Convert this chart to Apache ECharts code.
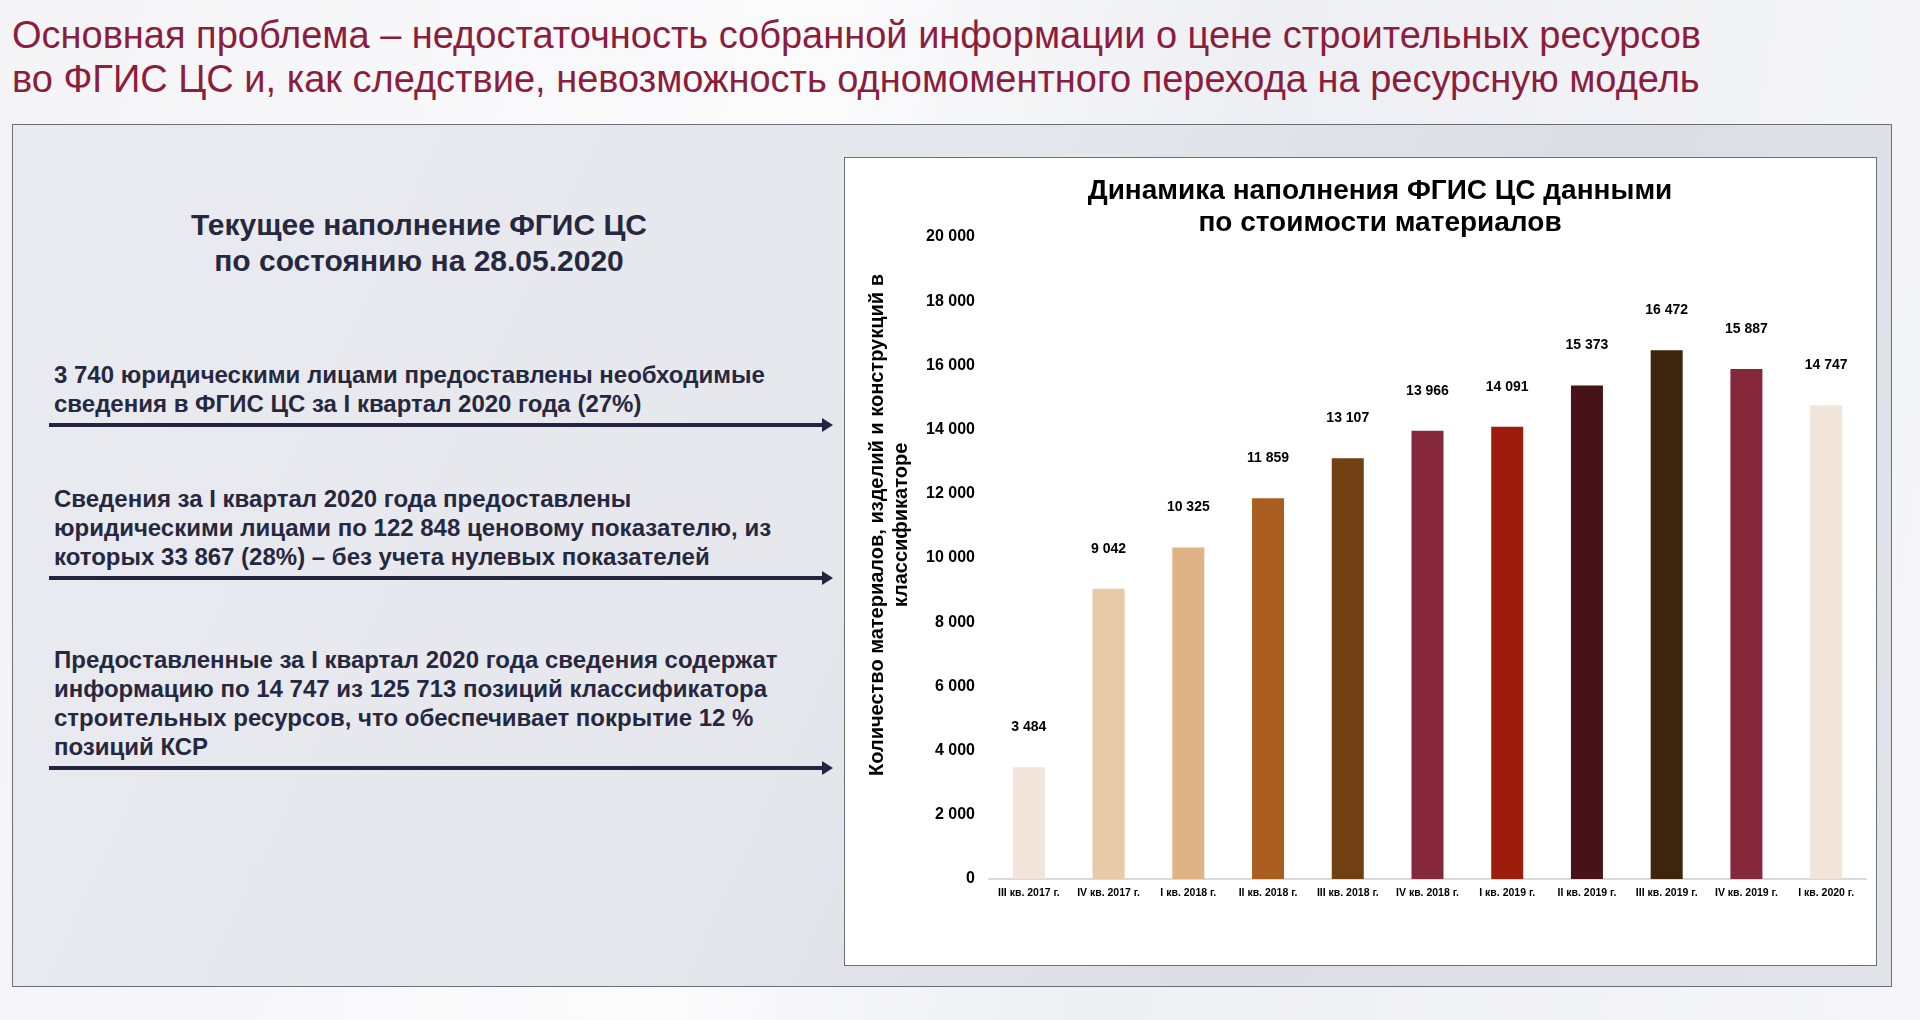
<!DOCTYPE html>
<html>
<head>
<meta charset="utf-8">
<title>Динамика наполнения ФГИС ЦС</title>
<script src="https://cdn.jsdelivr.net/npm/echarts@6/dist/echarts.min.js"></script>
<style>
	html, body {
		margin: 0;
		padding: 0;
		width: 1920px;
		height: 1020px;
		overflow: hidden;
		font-family: "Liberation Sans", Arial, sans-serif;
	}
	body {
		position: relative;
		background: linear-gradient(100deg, #f4f4f7 0%, #fbfbfc 40%, #eeeff3 60%, #f6f6f8 100%);
	}
	.slide-title {
		position: absolute;
		left: 12px;
		top: 13px;
		font-size: 38px;
		line-height: 44px;
		color: #8b1d3d;
		white-space: nowrap;
	}
	.panel {
		position: absolute;
		left: 12px;
		top: 124px;
		width: 1878px;
		height: 861px;
		border: 1.5px solid #6c6d76;
		background: linear-gradient(115deg, #eaebf0 0%, #e6e7ed 45%, #dcdde5 70%, #e3e4ea 100%);
	}
	.info-head {
		position: absolute;
		left: 119px;
		width: 600px;
		top: 207px;
		text-align: center;
		font-size: 30px;
		line-height: 36px;
		font-weight: bold;
		color: #262840;
	}
	.info {
		position: absolute;
		left: 54px;
		font-size: 24px;
		line-height: 29px;
		font-weight: bold;
		color: #262840;
		white-space: nowrap;
	}
	.arrow {
		position: absolute;
		left: 49px;
		width: 774px;
		height: 4px;
		background: #23253f;
	}
	.arrow:after {
		content: '';
		position: absolute;
		right: -10px;
		top: -5px;
		border-left: 11px solid #23253f;
		border-top: 7px solid transparent;
		border-bottom: 7px solid transparent;
	}
	.chart-box {
		position: absolute;
		left: 844px;
		top: 157px;
		width: 1031px;
		height: 807px;
		border: 1.5px solid #6c6d76;
		background: #ffffff;
	}
	.chart {
		width: 1031px;
		height: 807px;
	}
</style>
</head>
<body>
	<div class="slide-title">Основная проблема – недостаточность собранной информации о цене строительных ресурсов<br>во ФГИС ЦС и, как следствие, невозможность одномоментного перехода на ресурсную модель</div>
	<div class="panel"></div>

	<div class="info-head">Текущее наполнение ФГИС ЦС<br>по состоянию на 28.05.2020</div>

	<div class="info" style="top:360px;">3 740 юридическими лицами предоставлены необходимые<br>сведения в ФГИС ЦС за I квартал 2020 года (27%)</div>
	<div class="arrow" style="top:423px;"></div>

	<div class="info" style="top:484px;">Сведения за I квартал 2020 года предоставлены<br>юридическими лицами по 122 848 ценовому показателю, из<br>которых 33 867 (28%) – без учета нулевых показателей</div>
	<div class="arrow" style="top:576px;"></div>

	<div class="info" style="top:645px;">Предоставленные за I квартал 2020 года сведения содержат<br>информацию по 14 747 из 125 713 позиций классификатора<br>строительных ресурсов, что обеспечивает покрытие 12 %<br>позиций КСР</div>
	<div class="arrow" style="top:766px;"></div>

	<div class="chart-box"><div class="chart" id="chart"></div></div>

<script>
	// кварталы
	var quarters = ['III кв. 2017 г.', 'IV кв. 2017 г.', 'I кв. 2018 г.', 'II кв. 2018 г.', 'III кв. 2018 г.', 'IV кв. 2018 г.',
		'I кв. 2019 г.', 'II кв. 2019 г.', 'III кв. 2019 г.', 'IV кв. 2019 г.', 'I кв. 2020 г.'];
	// количество позиций в классификаторе
	var counts = [3484, 9042, 10325, 11859, 13107, 13966, 14091, 15373, 16472, 15887, 14747];
	// цвет каждого столбца
	var barColors = ['#f2e4d8', '#e8caa9', '#dfb385', '#a95d1e', '#703f12', '#85283b',
		'#9d1c0c', '#481318', '#3d240c', '#85283b', '#f2e4d8'];

	var yMax = 20000,
		yStep = 2000;

	function fmt(v) {
		return String(v).replace(/\B(?=(\d{3})+(?!\d))/g, ' ');
	}

	var barData = [];
	for (var i = 0; i < counts.length; i++) {
		barData.push({
			value: counts[i],
			itemStyle: { color: barColors[i] }
		});
	}

	var myChart = echarts.init(document.getElementById('chart'));
	myChart.setOption({
		animation: false,
		backgroundColor: '#ffffff',
		textStyle: { fontFamily: '"Liberation Sans", Arial, sans-serif' },
		title: {
			text: 'Динамика наполнения ФГИС ЦС данными\nпо стоимости материалов',
			left: 530,
			top: 12,
			textAlign: 'center',
			textStyle: {
				fontSize: 28,
				fontWeight: 'bold',
				color: '#000000',
				lineHeight: 32
			}
		},
		grid: {
			left: 144,
			right: 10,
			top: 79,
			bottom: 86,
			containLabel: false
		},
		xAxis: {
			type: 'category',
			data: quarters,
			axisTick: { show: false },
			axisLine: { lineStyle: { color: '#d9d9d9', width: 2 } },
			axisLabel: {
				interval: 0,
				margin: 9,
				fontSize: 10.5,
				fontWeight: 'bold',
				color: '#000000'
			}
		},
		yAxis: {
			type: 'value',
			min: 0,
			max: yMax,
			interval: yStep,
			splitLine: { show: false },
			axisLine: { show: false },
			axisTick: { show: false },
			axisLabel: {
				margin: 14,
				fontSize: 16,
				fontWeight: 'bold',
				color: '#000000',
				formatter: function (v) { return fmt(v); }
			}
		},
		graphic: [{
			type: 'text',
			x: 888 - 844,
			y: 524 - 157,
			rotation: Math.PI / 2,
			style: {
				text: 'Количество материалов, изделий и конструкций в\nклассификаторе',
				fontSize: 20,
				fontWeight: 'bold',
				lineHeight: 24,
				fill: '#000000',
				align: 'center',
				verticalAlign: 'middle',
				fontFamily: '"Liberation Sans", Arial, sans-serif'
			}
		}],
		series: [{
			type: 'bar',
			barWidth: 32,
			data: barData,
			label: {
				show: true,
				position: 'top',
				distance: 33,
				fontSize: 14,
				fontWeight: 'bold',
				color: '#000000',
				formatter: function (p) { return fmt(p.value); }
			}
		}]
	});
</script>
</body>
</html>
